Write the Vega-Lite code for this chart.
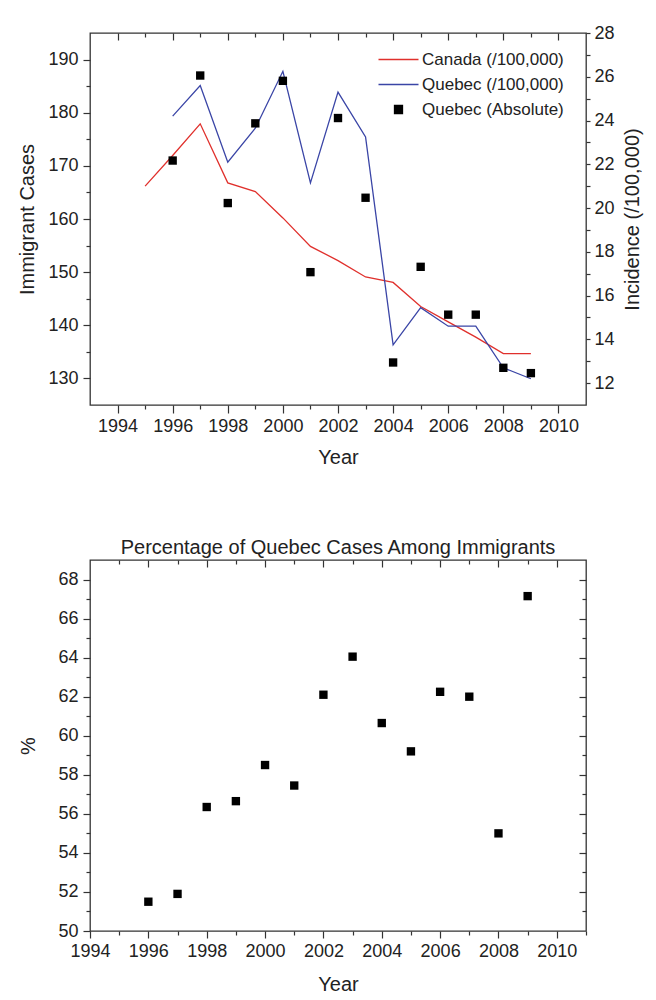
{
  "$schema": "https://vega.github.io/schema/vega-lite/v6.json",
  "padding": {"left": 17, "top": 23, "right": 10, "bottom": 5},
  "spacing": 69,
  "config": {
    "font": "Liberation Sans",
    "view": {"stroke": "#333333", "strokeWidth": 1.3},
    "axis": {
      "grid": false,
      "domain": false,
      "labelOverlap": false,
      "labelFlush": false,
      "labelFont": "Liberation Sans",
      "titleFont": "Liberation Sans",
      "labelFontSize": 18,
      "titleFontSize": 20,
      "titleFontWeight": "normal",
      "labelColor": "#222222",
      "titleColor": "#222222",
      "tickColor": "#333333",
      "tickWidth": 1.2,
      "labelPadding": 4
    },
    "title": {"font": "Liberation Sans", "fontSize": 20, "fontWeight": "normal", "color": "#222222", "offset": 1}
  },
  "datasets": {
    "top": [
      {"year": 1995, "series": "Canada (/100,000)", "value": 21.0},
      {"year": 1996, "series": "Canada (/100,000)", "value": 22.4},
      {"year": 1997, "series": "Canada (/100,000)", "value": 23.85},
      {"year": 1998, "series": "Canada (/100,000)", "value": 21.15},
      {"year": 1999, "series": "Canada (/100,000)", "value": 20.75},
      {"year": 2000, "series": "Canada (/100,000)", "value": 19.55},
      {"year": 2001, "series": "Canada (/100,000)", "value": 18.25},
      {"year": 2002, "series": "Canada (/100,000)", "value": 17.6},
      {"year": 2003, "series": "Canada (/100,000)", "value": 16.85},
      {"year": 2004, "series": "Canada (/100,000)", "value": 16.6},
      {"year": 2005, "series": "Canada (/100,000)", "value": 15.5},
      {"year": 2006, "series": "Canada (/100,000)", "value": 14.8},
      {"year": 2007, "series": "Canada (/100,000)", "value": 14.1},
      {"year": 2008, "series": "Canada (/100,000)", "value": 13.35},
      {"year": 2009, "series": "Canada (/100,000)", "value": 13.35},
      {"year": 1996, "series": "Quebec (/100,000)", "value": 24.2},
      {"year": 1997, "series": "Quebec (/100,000)", "value": 25.6},
      {"year": 1998, "series": "Quebec (/100,000)", "value": 22.1},
      {"year": 1999, "series": "Quebec (/100,000)", "value": 23.65},
      {"year": 2000, "series": "Quebec (/100,000)", "value": 26.25},
      {"year": 2001, "series": "Quebec (/100,000)", "value": 21.15},
      {"year": 2002, "series": "Quebec (/100,000)", "value": 25.3},
      {"year": 2003, "series": "Quebec (/100,000)", "value": 23.25},
      {"year": 2004, "series": "Quebec (/100,000)", "value": 13.75},
      {"year": 2005, "series": "Quebec (/100,000)", "value": 15.45},
      {"year": 2006, "series": "Quebec (/100,000)", "value": 14.6},
      {"year": 2007, "series": "Quebec (/100,000)", "value": 14.6},
      {"year": 2008, "series": "Quebec (/100,000)", "value": 12.7},
      {"year": 2009, "series": "Quebec (/100,000)", "value": 12.2},
      {"year": 1996, "series": "Quebec (Absolute)", "value": 171},
      {"year": 1997, "series": "Quebec (Absolute)", "value": 187},
      {"year": 1998, "series": "Quebec (Absolute)", "value": 163},
      {"year": 1999, "series": "Quebec (Absolute)", "value": 178},
      {"year": 2000, "series": "Quebec (Absolute)", "value": 186},
      {"year": 2001, "series": "Quebec (Absolute)", "value": 150},
      {"year": 2002, "series": "Quebec (Absolute)", "value": 179},
      {"year": 2003, "series": "Quebec (Absolute)", "value": 164},
      {"year": 2004, "series": "Quebec (Absolute)", "value": 133},
      {"year": 2005, "series": "Quebec (Absolute)", "value": 151},
      {"year": 2006, "series": "Quebec (Absolute)", "value": 142},
      {"year": 2007, "series": "Quebec (Absolute)", "value": 142},
      {"year": 2008, "series": "Quebec (Absolute)", "value": 132},
      {"year": 2009, "series": "Quebec (Absolute)", "value": 131}
    ],
    "pct": [
      {"year": 1996, "pct": 51.5},
      {"year": 1997, "pct": 51.9},
      {"year": 1998, "pct": 56.35},
      {"year": 1999, "pct": 56.65},
      {"year": 2000, "pct": 58.5},
      {"year": 2001, "pct": 57.45},
      {"year": 2002, "pct": 62.1},
      {"year": 2003, "pct": 64.05},
      {"year": 2004, "pct": 60.65},
      {"year": 2005, "pct": 59.2},
      {"year": 2006, "pct": 62.25},
      {"year": 2007, "pct": 62.0},
      {"year": 2008, "pct": 55.0},
      {"year": 2009, "pct": 67.15}
    ]
  },
  "vconcat": [
    {
      "width": 496,
      "height": 372,
      "data": {"name": "top"},
      "layer": [
        {
          "transform": [{"filter": "datum.series !== 'Quebec (Absolute)'"}],
          "mark": {"type": "line", "strokeWidth": 1.3},
          "encoding": {
            "x": {
              "field": "year", "type": "quantitative",
              "scale": {"domain": [1993, 2011], "nice": false, "zero": false},
              "axis": {
                "orient": "bottom", "title": "Year", "titlePadding": 12,
                "values": [1994, 1995, 1996, 1997, 1998, 1999, 2000, 2001, 2002, 2003, 2004, 2005, 2006, 2007, 2008, 2009, 2010],
                "labelExpr": "datum.value % 2 === 0 ? datum.value : ''",
                "tickSize": {"condition": {"test": "datum.value % 2 === 0", "value": 8}, "value": 4}
              }
            },
            "y": {
              "field": "value", "type": "quantitative",
              "scale": {"domain": [11, 28], "nice": false, "zero": false},
              "axis": {
                "orient": "right", "title": "Incidence (/100,000)", "titleAngle": 270, "titleBaseline": "top", "titlePadding": 8,
                "values": [12, 13, 14, 15, 16, 17, 18, 19, 20, 21, 22, 23, 24, 25, 26, 27, 28],
                "labelExpr": "datum.value % 2 === 0 ? datum.value : ''",
                "tickSize": 4
              }
            },
            "color": {
              "field": "series", "type": "nominal",
              "scale": {
                "domain": ["Canada (/100,000)", "Quebec (/100,000)", "Quebec (Absolute)"],
                "range": ["#e0302c", "#3a45a6", "#000000"]
              },
              "legend": {
                "title": null, "orient": "none", "legendX": 300, "legendY": 18, "padding": 0,
                "labelFont": "Liberation Sans", "labelFontSize": 17, "labelColor": "#222222",
                "symbolSize": 64, "rowPadding": 7, "labelOffset": 15, "symbolStrokeWidth": 1.3,
                "encode": {
                  "symbols": {
                    "update": {
                      "shape": {"signal": "datum.value === 'Quebec (Absolute)' ? 'square' : 'M-5,0L5,0'"},
                      "fill": {"signal": "datum.value === 'Quebec (Absolute)' ? '#000000' : 'transparent'"},
                      "stroke": {"signal": "datum.value === 'Canada (/100,000)' ? '#e0302c' : (datum.value === 'Quebec (/100,000)' ? '#3a45a6' : 'transparent')"},
                      "strokeWidth": {"value": 1.3}
                    }
                  }
                }
              }
            }
          }
        },
        {
          "transform": [{"filter": "datum.series === 'Quebec (Absolute)'"}],
          "mark": {"type": "square", "size": 70, "opacity": 1},
          "encoding": {
            "x": {
              "field": "year", "type": "quantitative",
              "scale": {"domain": [1993, 2011], "nice": false, "zero": false},
              "axis": {
                "orient": "top", "title": null, "labels": false,
                "values": [1994, 1995, 1996, 1997, 1998, 1999, 2000, 2001, 2002, 2003, 2004, 2005, 2006, 2007, 2008, 2009, 2010],
                "tickSize": {"condition": {"test": "datum.value % 2 === 0", "value": -7}, "value": -4}
              }
            },
            "y": {
              "field": "value", "type": "quantitative",
              "scale": {"domain": [125, 195], "nice": false, "zero": false},
              "axis": {
                "orient": "left", "title": "Immigrant Cases", "titlePadding": 10,
                "values": [130, 135, 140, 145, 150, 155, 160, 165, 170, 175, 180, 185, 190],
                "labelExpr": "datum.value % 10 === 0 ? datum.value : ''",
                "tickSize": {"condition": {"test": "datum.value % 10 === 0", "value": 7}, "value": 4},
                "labelPadding": 5
              }
            },
            "color": {"field": "series", "type": "nominal"}
          }
        }
      ],
      "resolve": {"scale": {"y": "independent"}, "axis": {"x": "independent"}}
    },
    {
      "width": 496,
      "height": 371,
      "title": "Percentage of Quebec Cases Among Immigrants",
      "data": {"name": "pct"},
      "layer": [
        {
          "mark": {"type": "square", "size": 70, "color": "#000000", "opacity": 1},
          "encoding": {
            "x": {
              "field": "year", "type": "quantitative",
              "scale": {"domain": [1994, 2011], "nice": false, "zero": false},
              "axis": {
                "orient": "bottom", "title": "Year", "titlePadding": 14,
                "values": [1994, 1995, 1996, 1997, 1998, 1999, 2000, 2001, 2002, 2003, 2004, 2005, 2006, 2007, 2008, 2009, 2010, 2011],
                "labelExpr": "datum.value % 2 === 0 ? datum.value : ''",
                "tickSize": {"condition": {"test": "datum.value % 2 === 0", "value": 7}, "value": 4}
              }
            },
            "y": {
              "field": "pct", "type": "quantitative",
              "scale": {"domain": [50, 69], "nice": false, "zero": false},
              "axis": {
                "orient": "left", "title": "%", "titlePadding": 19,
                "values": [50, 51, 52, 53, 54, 55, 56, 57, 58, 59, 60, 61, 62, 63, 64, 65, 66, 67, 68],
                "labelExpr": "datum.value % 2 === 0 ? datum.value : ''",
                "tickSize": {"condition": {"test": "datum.value % 2 === 0", "value": 7}, "value": 4},
                "labelPadding": 5
              }
            }
          }
        },
        {
          "mark": {"type": "square", "size": 70, "opacity": 0},
          "encoding": {
            "x": {
              "field": "year", "type": "quantitative",
              "scale": {"domain": [1994, 2011], "nice": false, "zero": false},
              "axis": {
                "orient": "top", "title": null, "labels": false,
                "values": [1995, 1996, 1997, 1998, 1999, 2000, 2001, 2002, 2003, 2004, 2005, 2006, 2007, 2008, 2009, 2010],
                "tickSize": {"condition": {"test": "datum.value % 2 === 0", "value": -7}, "value": -4}
              }
            },
            "y": {
              "field": "pct", "type": "quantitative",
              "scale": {"domain": [50, 69], "nice": false, "zero": false},
              "axis": {
                "orient": "right", "title": null, "labels": false,
                "values": [51, 52, 53, 54, 55, 56, 57, 58, 59, 60, 61, 62, 63, 64, 65, 66, 67, 68],
                "tickSize": {"condition": {"test": "datum.value % 2 === 0", "value": -7}, "value": -4}
              }
            }
          }
        }
      ],
      "resolve": {"axis": {"x": "independent", "y": "independent"}}
    }
  ]
}
